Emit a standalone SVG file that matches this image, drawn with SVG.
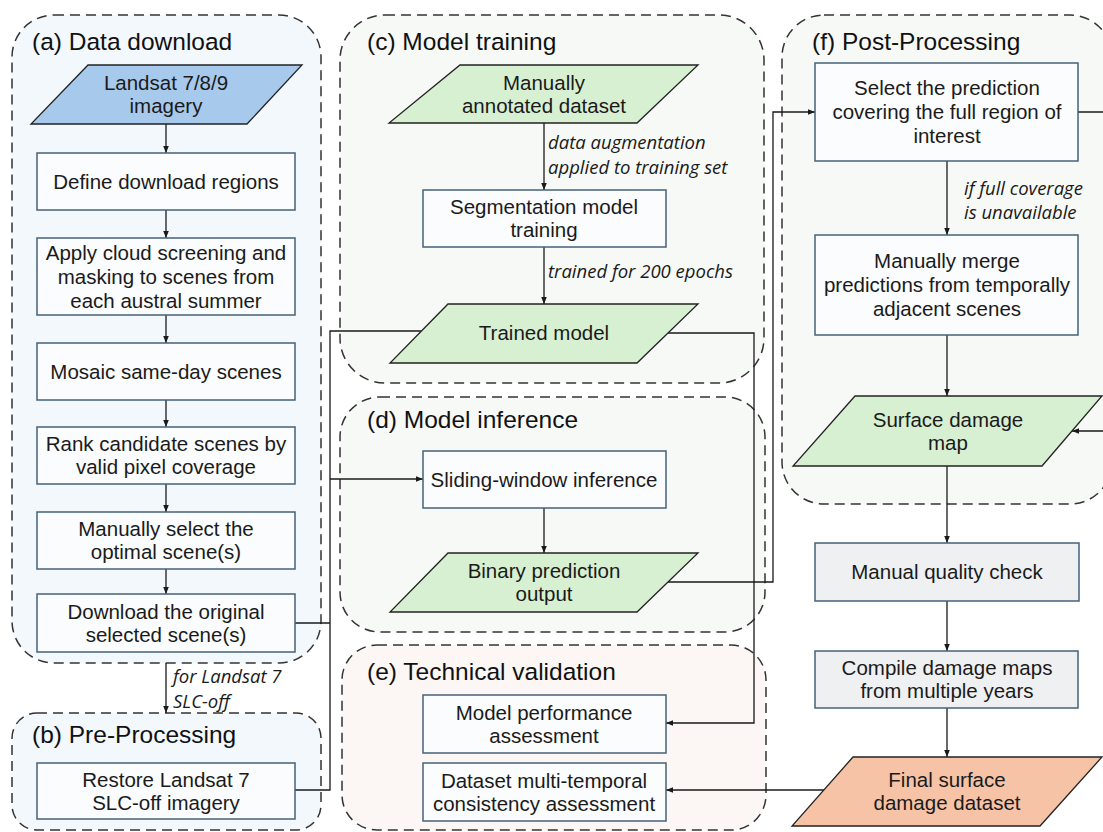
<svg xmlns="http://www.w3.org/2000/svg" width="1103" height="832" viewBox="0 0 1103 832">
<style>
.grp{stroke:#333;stroke-width:1.5;stroke-dasharray:10 6;}
.ga{fill:#f3f8fd;}
.gc{fill:#f7f9f6;}
.ge{fill:#fcf7f4;}
.box{fill:#fafcfd;stroke:#46627a;stroke-width:1.5;}
.boxg{fill:#eff0f2;stroke:#46627a;stroke-width:1.5;}
.pb{fill:#a7c9ec;stroke:#222;stroke-width:1.3;}
.pg{fill:#d8f0d2;stroke:#222;stroke-width:1.3;}
.po{fill:#f6c3a7;stroke:#222;stroke-width:1.3;}
.t{font-family:"Liberation Sans",Arial,sans-serif;font-size:20.5px;fill:#1a1a1a;text-anchor:middle;}
.title{font-family:"Liberation Sans",Arial,sans-serif;font-size:24.5px;fill:#111;}
.lab{font-family:"Open Sans","Liberation Sans",sans-serif;font-size:18.5px;font-style:italic;fill:#1a1a1a;}
.c{fill:none;stroke:#1a1a1a;stroke-width:1.3;}
</style>
<defs>
<marker id="ah" viewBox="0 0 10 10" refX="10" refY="5" markerWidth="7" markerHeight="7" markerUnits="userSpaceOnUse" orient="auto">
<path d="M0,1 L10,5 L0,9 Z" fill="#1a1a1a"/>
</marker>
</defs>

<g id="group-a">
<rect class="grp ga" x="12" y="15" width="309" height="648" rx="42"/>
<text class="title" x="32" y="50">(a) Data download</text>
</g>
<g id="group-b">
<rect class="grp ga" x="12" y="713" width="309" height="117" rx="25"/>
<text class="title" x="32" y="743">(b) Pre-Processing</text>
</g>
<g id="group-c">
<rect class="grp gc" x="340" y="15" width="424" height="368" rx="45"/>
<text class="title" x="367" y="50">(c) Model training</text>
</g>
<g id="group-d">
<rect class="grp gc" x="340" y="397" width="425" height="235" rx="40"/>
<text class="title" x="367" y="428">(d) Model inference</text>
</g>
<g id="group-e">
<rect class="grp ge" x="342" y="645" width="424" height="185" rx="35"/>
<text class="title" x="367" y="680">(e) Technical validation</text>
</g>
<g id="group-f">
<rect class="grp gc" x="782" y="15" width="330" height="489" rx="42"/>
<text class="title" x="812" y="50">(f) Post-Processing</text>
</g>

<g id="connectors">
<line class="c" x1="166" y1="124" x2="166" y2="153" marker-end="url(#ah)"/>
<line class="c" x1="166" y1="210" x2="166" y2="238" marker-end="url(#ah)"/>
<line class="c" x1="166" y1="315" x2="166" y2="343" marker-end="url(#ah)"/>
<line class="c" x1="166" y1="400" x2="166" y2="427" marker-end="url(#ah)"/>
<line class="c" x1="166" y1="484" x2="166" y2="512" marker-end="url(#ah)"/>
<line class="c" x1="166" y1="569" x2="166" y2="594" marker-end="url(#ah)"/>
<line class="c" x1="166" y1="663" x2="166" y2="713" marker-end="url(#ah)"/>
<text class="lab" x="173" y="683">for Landsat 7</text>
<text class="lab" x="173" y="708">SLC-off</text>
<polyline class="c" points="295,623 330,623"/>
<polyline class="c" points="295,790 330,790 330,331 421,331"/>
<polyline class="c" points="330,479 423,479" marker-end="url(#ah)"/>
<line class="c" x1="544" y1="123" x2="544" y2="190" marker-end="url(#ah)"/>
<text class="lab" x="548" y="149">data augmentation</text>
<text class="lab" x="548" y="174">applied to training set</text>
<line class="c" x1="544" y1="247" x2="544" y2="304" marker-end="url(#ah)"/>
<text class="lab" x="548" y="278">trained for 200 epochs</text>
<polyline class="c" points="668,333 754,333 754,723 666,723" marker-end="url(#ah)"/>
<line class="c" x1="544" y1="508" x2="544" y2="553" marker-end="url(#ah)"/>
<polyline class="c" points="668,582 773,582 773,112 815,112" marker-end="url(#ah)"/>
<line class="c" x1="947" y1="161" x2="947" y2="235" marker-end="url(#ah)"/>
<text class="lab" x="964" y="195">if full coverage</text>
<text class="lab" x="964" y="219">is unavailable</text>
<polyline class="c" points="1078,112 1110,112 1110,431 1072,431" marker-end="url(#ah)"/>
<line class="c" x1="947" y1="335" x2="947" y2="396" marker-end="url(#ah)"/>
<line class="c" x1="947" y1="466" x2="947" y2="543" marker-end="url(#ah)"/>
<line class="c" x1="947" y1="601" x2="947" y2="651" marker-end="url(#ah)"/>
<line class="c" x1="947" y1="708" x2="947" y2="757" marker-end="url(#ah)"/>
<polyline class="c" points="824,790 666,790" marker-end="url(#ah)"/>
</g>

<g id="landsat">
<polygon class="pb" points="88,65 302,65 247,124 31,124"/>
<text class="t" x="166" y="90">Landsat 7/8/9</text>
<text class="t" x="166" y="113">imagery</text>
</g>
<g id="define">
<rect class="box" x="37" y="153" width="258" height="57"/>
<text class="t" x="166" y="188.5">Define download regions</text>
</g>
<g id="apply">
<rect class="box" x="37" y="238" width="258" height="77"/>
<text class="t" x="166" y="259.5">Apply cloud screening and</text>
<text class="t" x="166" y="283.5">masking to scenes from</text>
<text class="t" x="166" y="307.5">each austral summer</text>
</g>
<g id="mosaic">
<rect class="box" x="37" y="343" width="258" height="57"/>
<text class="t" x="166" y="378.5">Mosaic same-day scenes</text>
</g>
<g id="rank">
<rect class="box" x="37" y="427" width="258" height="57"/>
<text class="t" x="166" y="451">Rank candidate scenes by</text>
<text class="t" x="166" y="474">valid pixel coverage</text>
</g>
<g id="select-scene">
<rect class="box" x="37" y="512" width="258" height="57"/>
<text class="t" x="166" y="536">Manually select the</text>
<text class="t" x="166" y="559">optimal scene(s)</text>
</g>
<g id="download">
<rect class="box" x="37" y="594" width="258" height="58"/>
<text class="t" x="166" y="618.5">Download the original</text>
<text class="t" x="166" y="641.5">selected scene(s)</text>
</g>
<g id="restore">
<rect class="box" x="37" y="763" width="258" height="56"/>
<text class="t" x="166" y="786.5">Restore Landsat 7</text>
<text class="t" x="166" y="809.5">SLC-off imagery</text>
</g>

<g id="annotated">
<polygon class="pg" points="460,65 698,65 637,123 389,123"/>
<text class="t" x="544" y="89.5">Manually</text>
<text class="t" x="544" y="112.5">annotated dataset</text>
</g>
<g id="segmentation">
<rect class="box" x="423" y="190" width="243" height="57"/>
<text class="t" x="544" y="214">Segmentation model</text>
<text class="t" x="544" y="237">training</text>
</g>
<g id="trained">
<polygon class="pg" points="448,304 698,304 637,363 390,363"/>
<text class="t" x="544" y="340">Trained model</text>
</g>
<g id="sliding">
<rect class="box" x="423" y="451" width="243" height="57"/>
<text class="t" x="544" y="486.5">Sliding-window inference</text>
</g>
<g id="binary">
<polygon class="pg" points="448,553 698,553 637,612 390,612"/>
<text class="t" x="544" y="578">Binary prediction</text>
<text class="t" x="544" y="601">output</text>
</g>
<g id="performance">
<rect class="box" x="423" y="695" width="243" height="58"/>
<text class="t" x="544" y="719.5">Model performance</text>
<text class="t" x="544" y="742.5">assessment</text>
</g>
<g id="consistency">
<rect class="box" x="423" y="763" width="243" height="58"/>
<text class="t" x="544" y="787.5">Dataset multi-temporal</text>
<text class="t" x="544" y="810.5">consistency assessment</text>
</g>

<g id="select-pred">
<rect class="box" x="815" y="63" width="263" height="98"/>
<text class="t" x="947" y="95">Select the prediction</text>
<text class="t" x="947" y="119">covering the full region of</text>
<text class="t" x="947" y="143">interest</text>
</g>
<g id="merge">
<rect class="box" x="815" y="235" width="263" height="100"/>
<text class="t" x="947" y="268">Manually merge</text>
<text class="t" x="947" y="292">predictions from temporally</text>
<text class="t" x="947" y="316">adjacent scenes</text>
</g>
<g id="surface">
<polygon class="pg" points="855,396 1102,396 1042,466 793,466"/>
<text class="t" x="948" y="426.5">Surface damage</text>
<text class="t" x="948" y="449.5">map</text>
</g>
<g id="quality">
<rect class="boxg" x="815" y="543" width="264" height="58"/>
<text class="t" x="947" y="579">Manual quality check</text>
</g>
<g id="compile">
<rect class="boxg" x="815" y="651" width="263" height="57"/>
<text class="t" x="947" y="675">Compile damage maps</text>
<text class="t" x="947" y="698">from multiple years</text>
</g>
<g id="final">
<polygon class="po" points="853,757 1102,757 1040,826 792,826"/>
<text class="t" x="947" y="787">Final surface</text>
<text class="t" x="947" y="810">damage dataset</text>
</g>
</svg>
